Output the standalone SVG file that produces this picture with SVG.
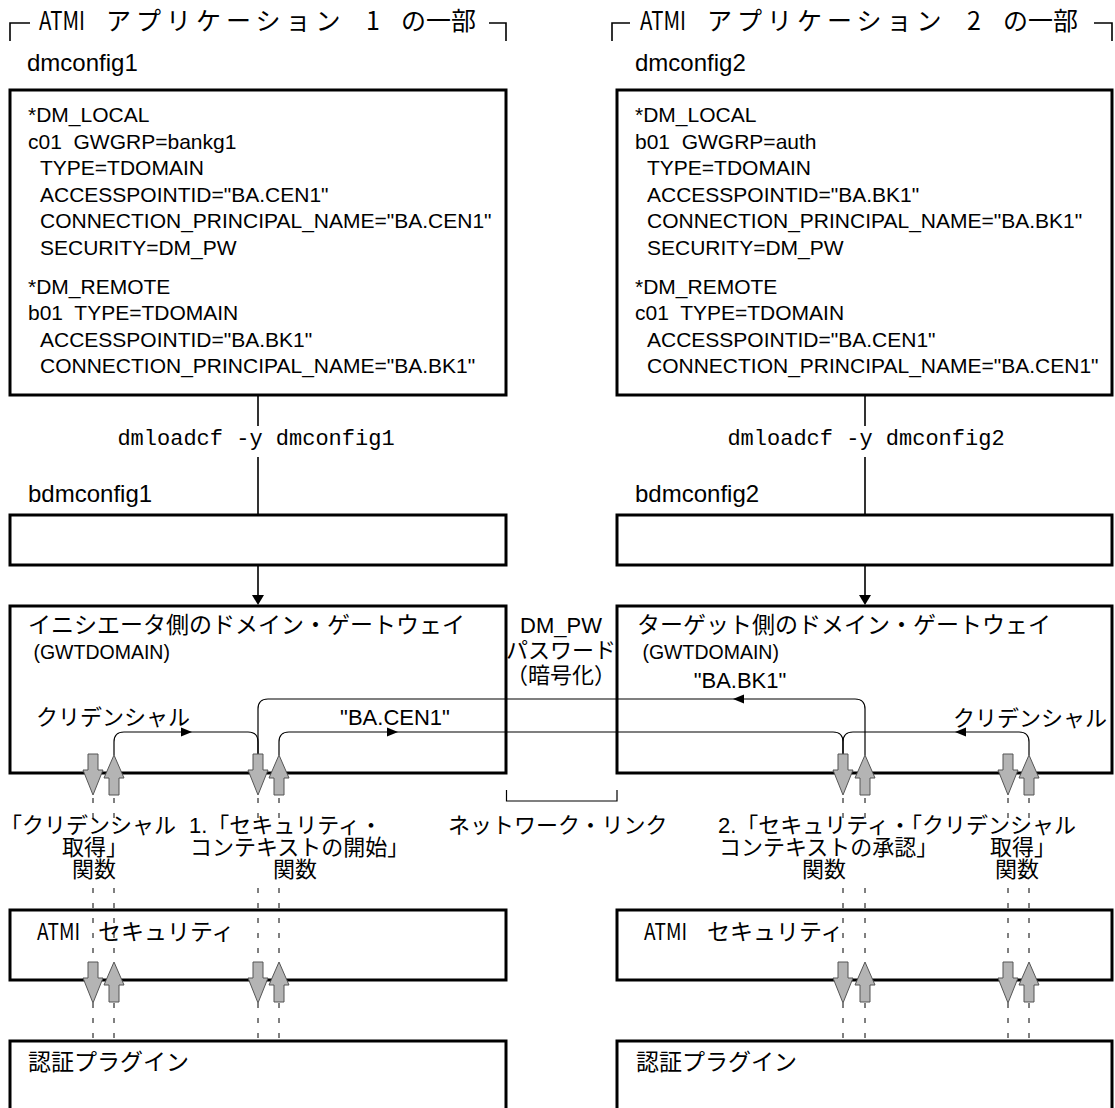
<svg xmlns="http://www.w3.org/2000/svg" width="1115" height="1108" viewBox="0 0 1115 1108">
<style>
.box{fill:#fff;stroke:#000;stroke-width:3}
.cfg{font-family:"Liberation Sans",Arial,sans-serif;font-size:21px;fill:#000}
.lbl{font-family:"Liberation Sans",Arial,sans-serif;font-size:24px;fill:#000}
.lat{font-family:"Liberation Sans",Arial,sans-serif;font-size:22px;fill:#000}
.gw{font-family:"Liberation Sans",Arial,sans-serif;font-size:19.5px;fill:#000}
.jp{font-family:"Liberation Sans","Noto Sans CJK JP",sans-serif;font-size:22px;fill:#000}
.jt{font-family:"Noto Sans CJK JP",sans-serif;font-size:23px;fill:#000}
.hd{font-family:"Noto Sans CJK JP",sans-serif;font-size:25px;fill:#000}
.mono{font-family:"Liberation Mono","Courier New",monospace;font-size:22px;fill:#000}
.ln{fill:none;stroke:#000;stroke-width:1.2}
.vl{fill:none;stroke:#000;stroke-width:1.6}
.dash{fill:none;stroke:#000;stroke-width:1;stroke-dasharray:5 10}
.ga{fill:#b4b4b4;stroke:#555;stroke-width:1}
</style>
<defs>
<path id="tri" d="M0,0 L-11,-4.5 L-11,4.5 Z" fill="#000"/>
<path id="dn" d="M-5,0 H5 V16 H10 L0,41 L-10,16 H-5 Z" class="ga"/>
<path id="up" d="M0,0 L10,23 H5 V40 H-5 V23 H-10 Z" class="ga"/>
</defs>

<!-- headers -->
<g id="header1">
<path class="vl" d="M10,41 V23 H30 M489,23 H506 V41"/>
<text class="hd" y="30"><tspan x="39" textLength="46" lengthAdjust="spacingAndGlyphs">ATMI</tspan><tspan x="106" letter-spacing="5">アプリケーション</tspan><tspan x="366">1</tspan><tspan x="401">の一部</tspan></text>
</g>
<g id="header2">
<path class="vl" d="M612,41 V23 H630 M1094,23 H1112 V41"/>
<text class="hd" y="30"><tspan x="640" textLength="46" lengthAdjust="spacingAndGlyphs">ATMI</tspan><tspan x="707" letter-spacing="5">アプリケーション</tspan><tspan x="967">2</tspan><tspan x="1003">の一部</tspan></text>
</g>

<!-- dmconfig1 -->
<g id="dmconfig1">
<text class="lbl" x="27" y="71">dmconfig1</text>
<rect class="box" x="10" y="90" width="496" height="305"/>
<text class="cfg" xml:space="preserve"><tspan x="28" y="122">*DM_LOCAL</tspan><tspan x="28" y="148.5">c01  GWGRP=bankg1</tspan><tspan x="40" y="175">TYPE=TDOMAIN</tspan><tspan x="40" y="201.5">ACCESSPOINTID="BA.CEN1"</tspan><tspan x="40" y="228">CONNECTION_PRINCIPAL_NAME="BA.CEN1"</tspan><tspan x="40" y="254.5">SECURITY=DM_PW</tspan><tspan x="28" y="294">*DM_REMOTE</tspan><tspan x="28" y="320">b01  TYPE=TDOMAIN</tspan><tspan x="40" y="347">ACCESSPOINTID="BA.BK1"</tspan><tspan x="40" y="373">CONNECTION_PRINCIPAL_NAME="BA.BK1"</tspan></text>
</g>

<!-- dmconfig2 -->
<g id="dmconfig2">
<text class="lbl" x="635" y="71">dmconfig2</text>
<rect class="box" x="617" y="90" width="495" height="305"/>
<text class="cfg" xml:space="preserve"><tspan x="635" y="122">*DM_LOCAL</tspan><tspan x="635" y="148.5">b01  GWGRP=auth</tspan><tspan x="647" y="175">TYPE=TDOMAIN</tspan><tspan x="647" y="201.5">ACCESSPOINTID="BA.BK1"</tspan><tspan x="647" y="228">CONNECTION_PRINCIPAL_NAME="BA.BK1"</tspan><tspan x="647" y="254.5">SECURITY=DM_PW</tspan><tspan x="635" y="294">*DM_REMOTE</tspan><tspan x="635" y="320">c01  TYPE=TDOMAIN</tspan><tspan x="647" y="347">ACCESSPOINTID="BA.CEN1"</tspan><tspan x="647" y="373">CONNECTION_PRINCIPAL_NAME="BA.CEN1"</tspan></text>
</g>

<!-- bdmconfig -->
<g id="bdmconfig1">
<text class="lbl" x="28" y="502">bdmconfig1</text>
<rect class="box" x="10" y="515" width="496" height="50"/>
</g>
<g id="bdmconfig2">
<text class="lbl" x="635" y="502">bdmconfig2</text>
<rect class="box" x="617" y="515" width="495" height="50"/>
</g>

<!-- gateways -->
<g id="gateway1">
<rect class="box" x="10" y="606" width="496" height="167"/>
<text class="jt" x="28" y="633">イニシエータ側のドメイン・ゲートウェイ</text>
<text class="gw" x="28" y="659" xml:space="preserve"> (GWTDOMAIN)</text>
</g>
<g id="gateway2">
<rect class="box" x="617" y="606" width="495" height="167"/>
<text class="jt" x="637" y="633">ターゲット側のドメイン・ゲートウェイ</text>
<text class="gw" x="637" y="659" xml:space="preserve"> (GWTDOMAIN)</text>
</g>

<!-- ATMI security -->
<g id="atmi1">
<rect class="box" x="10" y="910" width="496" height="70"/>
<text class="jt" y="940"><tspan x="37" textLength="43" lengthAdjust="spacingAndGlyphs">ATMI</tspan><tspan x="98">セキュリティ</tspan></text>
</g>
<g id="atmi2">
<rect class="box" x="617" y="910" width="495" height="70"/>
<text class="jt" y="940"><tspan x="644" textLength="43" lengthAdjust="spacingAndGlyphs">ATMI</tspan><tspan x="707">セキュリティ</tspan></text>
</g>

<!-- auth plugin -->
<g id="auth1">
<rect class="box" x="10" y="1041" width="496" height="120"/>
<text class="jt" x="28" y="1070">認証プラグイン</text>
</g>
<g id="auth2">
<rect class="box" x="617" y="1041" width="495" height="120"/>
<text class="jt" x="636" y="1070">認証プラグイン</text>
</g>

<!-- middle labels -->
<g id="dmpw">
<text class="lat" x="561" y="633" text-anchor="middle">DM_PW</text>
<text class="jp" x="561" y="658" text-anchor="middle">パスワード</text>
<text class="jp" x="561" y="683" text-anchor="middle">（暗号化）</text>
</g>
<g id="network">
<path class="ln" d="M506.5,790 V801 H617 V790"/>
<text class="jp" x="448" y="833">ネットワーク・リンク</text>
</g>

<!-- function labels -->
<g id="func-labels">
<text class="jp"><tspan x="0" y="833">「クリデンシャル</tspan><tspan x="62" y="855">取得」</tspan><tspan x="72" y="877">関数</tspan></text>
<text class="jp"><tspan x="189" y="833">1.「セキュリティ・</tspan><tspan x="190" y="855">コンテキストの開始」</tspan><tspan x="273" y="877">関数</tspan></text>
<text class="jp"><tspan x="718" y="833">2.「セキュリティ・「クリデンシャル</tspan><tspan x="719" y="855">コンテキストの承認」</tspan><tspan x="990" y="855">取得」</tspan><tspan x="802" y="877">関数</tspan><tspan x="995" y="877">関数</tspan></text>
</g>

<!-- connectors -->
<g id="connectors">
<path class="vl" d="M258,395 V426 M258,457 V515 M258,565 V596"/>
<path d="M252,595 L264,595 L258,605 Z" fill="#000"/>
<path class="vl" d="M865,395 V426 M865,457 V515 M865,565 V596"/>
<path d="M859,595 L871,595 L865,605 Z" fill="#000"/>
<text class="mono" x="256" y="445" text-anchor="middle">dmloadcf -y dmconfig1</text>
<text class="mono" x="866" y="445" text-anchor="middle">dmloadcf -y dmconfig2</text>

<path class="ln" d="M114,755 V742 Q114,732 124,732 H248 Q258,732 258,742 V754"/>
<path class="ln" d="M865,755 V709 Q865,699 855,699 H268 Q258,699 258,709 V754"/>
<path class="ln" d="M279,755 V742 Q279,732 289,732 H833 Q843,732 843,742 V754"/>
<path class="ln" d="M1029,755 V742 Q1029,732 1019,732 H853 Q843,732 843,742 V754"/>
<use href="#tri" transform="translate(192,732)"/>
<use href="#tri" transform="translate(398,732)"/>
<use href="#tri" transform="translate(733,699) rotate(180)"/>
<use href="#tri" transform="translate(955,732) rotate(180)"/>
<text class="jp" x="36" y="725">クリデンシャル</text>
<text class="lat" x="395" y="725" text-anchor="middle">"BA.CEN1"</text>
<text class="jp" x="953" y="726">クリデンシャル</text>
<text class="lat" x="740" y="688" text-anchor="middle">"BA.BK1"</text>

<path class="dash" d="M93,798 V822 M93,888 V962 M93,1003 V1041 M114,798 V822 M114,888 V962 M114,1003 V1041 M258,798 V822 M258,888 V962 M258,1003 V1041 M279,798 V822 M279,888 V962 M279,1003 V1041 M843,798 V822 M843,888 V962 M843,1003 V1041 M865,798 V822 M865,888 V962 M865,1003 V1041 M1008,798 V822 M1008,888 V962 M1008,1003 V1041 M1029,798 V822 M1029,888 V962 M1029,1003 V1041"/>

<use href="#dn" x="93" y="754"/><use href="#up" x="114" y="755"/>
<use href="#dn" x="258" y="754"/><use href="#up" x="279" y="755"/>
<use href="#dn" x="843" y="754"/><use href="#up" x="865" y="755"/>
<use href="#dn" x="1008" y="754"/><use href="#up" x="1029" y="755"/>
<use href="#dn" x="93" y="962"/><use href="#up" x="114" y="962"/>
<use href="#dn" x="258" y="962"/><use href="#up" x="279" y="962"/>
<use href="#dn" x="843" y="962"/><use href="#up" x="865" y="962"/>
<use href="#dn" x="1008" y="962"/><use href="#up" x="1029" y="962"/>
</g>
</svg>
